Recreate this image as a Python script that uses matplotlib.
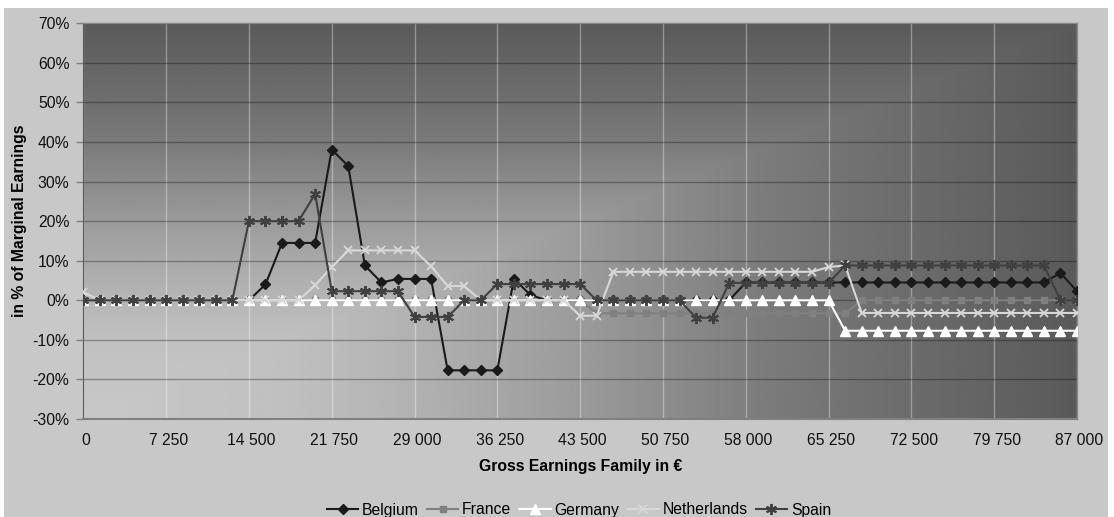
import numpy as np
import matplotlib
matplotlib.use('Agg')
import matplotlib.pyplot as plt
from matplotlib.patches import Rectangle
from matplotlib.ticker import FuncFormatter
from matplotlib.transforms import ScaledTranslation

plt.rcParams['font.family'] = ['Liberation Sans', 'DejaVu Sans']

# gross earnings of the family, one step = 1450 EUR
earnings = np.arange(0, 87001, 1450)

# marginal effective rate in % of marginal earnings
belgium = [0, 0, 0, 0, 0, 0, 0, 0, 0, 0, 0, 4.0, 14.5, 14.5, 14.5, 38.1,
           33.9, 8.8, 4.5, 5.4, 5.4, 5.4, -17.7, -17.7, -17.7, -17.7, 5.5,
           1.3, 0, 0, 0, 0, 0, 0, 0, 0, 0, 0, 0, 0, 4.5, 4.5, 4.5, 4.5,
           4.5, 4.5, 4.5, 4.5, 4.5, 4.5, 4.5, 4.5, 4.5, 4.5, 4.5, 4.5, 4.5,
           4.5, 4.5, 6.9, 2.3]
france = [0, 0, 0, 0, 0, 0, 0, 0, 0, 0, 0, 0, 0, 0, 0, 0, 0, 0, 0, 0, 0,
          0, 0, 0, 0, 0, 0, 0, 0, 0, 0, -3.3, -3.3, -3.3, -3.3, -3.3, -3.3,
          -3.3, -3.3, -3.3, -3.3, -3.3, -3.3, -3.3, -3.3, -3.3, -3.3, 0, 0,
          0, 0, 0, 0, 0, 0, 0, 0, 0, 0, 0, 0]
germany = [0, 0, 0, 0, 0, 0, 0, 0, 0, 0, 0, 0, 0, 0, 0, 0, 0, 0, 0, 0, 0,
           0, 0, 0, 0, 0, 0, 0, 0, 0, 0, 0, 0, 0, 0, 0, 0, 0, 0, 0, 0, 0,
           0, 0, 0, 0, -7.7, -7.7, -7.7, -7.7, -7.7, -7.7, -7.7, -7.7, -7.7,
           -7.7, -7.7, -7.7, -7.7, -7.7, -7.7]
netherlands = [2.1, 0, 0, 0, 0, 0, 0, 0, 0, 0, 0, 0, 0, 0, 3.8, 8.4, 12.6,
               12.6, 12.6, 12.6, 12.6, 8.6, 3.6, 3.6, 0, 0, 0, 0, 0, 0, -3.9,
               -3.9, 7.2, 7.2, 7.2, 7.2, 7.2, 7.2, 7.2, 7.2, 7.2, 7.2, 7.2,
               7.2, 7.2, 8.4, 8.8, -3.2, -3.2, -3.2, -3.2, -3.2, -3.2, -3.2,
               -3.2, -3.2, -3.2, -3.2, -3.2, -3.2, -3.2]
spain = [0, 0, 0, 0, 0, 0, 0, 0, 0, 0, 20.0, 20.0, 20.0, 20.0, 26.9, 2.3,
         2.3, 2.3, 2.3, 2.3, -4.2, -4.2, -4.2, 0, 0, 4.1, 4.1, 4.1, 4.1, 4.1,
         4.1, 0, 0, 0, 0, 0, 0, -4.4, -4.4, 4.4, 4.4, 4.4, 4.4, 4.4, 4.4,
         4.4, 8.8, 8.8, 8.8, 8.8, 8.8, 8.8, 8.8, 8.8, 8.8, 8.8, 8.8, 8.8,
         8.8, 0, 0]

W, H = 1114, 517
fs = 11.3
fig = plt.figure(figsize=(W / 100, H / 100), dpi=100)
fig.patch.set_facecolor('white')
fig.patches.append(Rectangle((4 / W, 0), (1108 - 4) / W, (H - 7.5) / H,
                             transform=fig.transFigure, facecolor='#c8c8c8',
                             edgecolor='none', zorder=-10))

ax = fig.add_axes([83.3 / W, 1 - 419 / H, (1077 - 83.3) / W, (419 - 23.3) / H])

# corner gradient: light in the lower left, dark towards top and right
n = 400
U, V = np.meshgrid(np.linspace(0, 1, n), np.linspace(1, 0, n))
t = np.maximum(U, V)
shade = np.interp(t, [0, 0.2, 0.3, 0.5, 0.7, 1.0],
                  [200, 192, 182, 155, 122, 90]) / 255
ax.imshow(shade, cmap='gray', vmin=0, vmax=1, extent=[0, 1, 0, 1],
          transform=ax.transAxes, aspect='auto', zorder=0,
          interpolation='bilinear')

ax.plot(earnings, belgium, color='#1a1a1a', lw=1.5, marker='D', ms=5.5,
        label='Belgium', zorder=3)
ax.plot(earnings, france, color='#808080', lw=1.5, marker='s', ms=5,
        label='France', zorder=3)
ax.plot(earnings, germany, color='white', lw=1.5, marker='^', ms=6.5,
        label='Germany', zorder=3)
ax.plot(earnings, netherlands, color='#d8d8d8', lw=1.5, marker='x', ms=6,
        mew=1.3, label='Netherlands', zorder=3)
ax.plot(earnings, spain, color='#404040', lw=1.5, marker=(6, 2, 0), ms=8,
        mew=1.4, label='Spain', zorder=3)

ax.set_xlim(0, 87000)
ax.set_ylim(-30, 70)
ax.set_xticks(np.arange(0, 87001, 7250))
ax.xaxis.set_major_formatter(FuncFormatter(lambda v, p: f'{int(v):,}'.replace(',', ' ')))
ax.set_yticks(np.arange(-30, 71, 10))
ax.yaxis.set_major_formatter(FuncFormatter(lambda v, p: f'{v:.0f}%'))

ax.yaxis.grid(True, color='black', alpha=0.3, lw=1)
ax.xaxis.grid(True, color='white', alpha=0.35, lw=1)

ax.tick_params(axis='x', length=0, pad=10, labelsize=fs, colors='#111111')
ax.tick_params(axis='y', length=5, width=1, color='#808080', pad=5,
               labelsize=fs, labelcolor='#111111')

# category labels sit a little right of their gridline
nudge = ScaledTranslation(2.5 / 100, 0, fig.dpi_scale_trans)
for lbl in ax.get_xticklabels():
    lbl.set_transform(lbl.get_transform() + nudge)

for side in ['top', 'right']:
    ax.spines[side].set_color('#8a8a8a')
    ax.spines[side].set_linewidth(1)
ax.spines['left'].set_color('#5a5a5a')
ax.spines['bottom'].set_color('#808080')
ax.spines['bottom'].set_linewidth(1.5)

ax.set_xlabel('Gross Earnings Family in €', fontsize=fs, fontweight='bold',
              labelpad=8)
ax.set_ylabel('in % of Marginal Earnings', fontsize=fs, fontweight='bold',
              labelpad=4)

handles, labels = ax.get_legend_handles_labels()
fig.legend(handles, labels, loc='center', bbox_to_anchor=(579 / W, 1 - 510 / H),
           ncol=5, frameon=False, fontsize=fs, handlelength=2.0,
           handletextpad=0.25, columnspacing=0.5)

fig.savefig('out.png', dpi=100)
